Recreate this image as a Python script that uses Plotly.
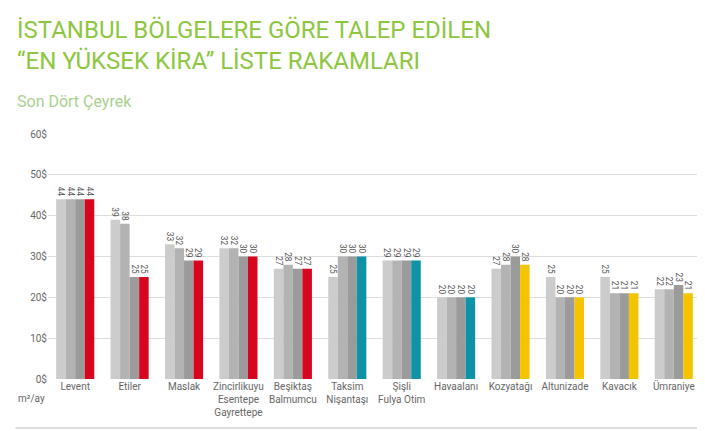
import plotly.graph_objects as go

categories = ["Levent", "Etiler", "Maslak", "Zincirlikuyu<br>Esentepe<br>Gayrettepe", "Beşiktaş<br>Balmumcu",
              "Taksim<br>Nişantaşı", "Şişli<br>Fulya Otim", "Havaalanı", "Kozyatağı", "Altunizade", "Kavacık", "Ümraniye"]
q1 = [44, 39, 33, 32, 27, 25, 29, 20, 27, 25, 25, 22]
q2 = [44, 38, 32, 32, 28, 30, 29, 20, 28, 20, 21, 22]
q3 = [44, 25, 29, 30, 27, 30, 29, 20, 30, 20, 21, 23]
q4 = [44, 25, 29, 30, 27, 30, 29, 20, 28, 20, 21, 21]
q4_colors = ["#d7061e"] * 5 + ["#0e93a6"] * 3 + ["#f5c400"] * 4
y_ticks = [0, 10, 20, 30, 40, 50, 60]
y_labels = ["0$", "10$", "20$", "30$", "40$", "50$", "60$"]

fig = go.Figure()
for vals, col in [(q1, "#cccccc"), (q2, "#b3b3b3"), (q3, "#9b9b9b"), (q4, q4_colors)]:
    fig.add_bar(x=categories, y=vals, marker_color=col, marker_line_width=0,
                text=[str(v) for v in vals], textposition="outside", textangle=90,
                textfont=dict(family="Roboto", size=10, color="#555555"), cliponaxis=False)

fig.update_layout(
    width=705, height=431, barmode="group", bargap=0.3, bargroupgap=0,
    paper_bgcolor="white", plot_bgcolor="white", showlegend=False,
    margin=dict(l=40, r=12, t=126, b=60),
    font=dict(family="Roboto", color="#666666"),
    yaxis=dict(range=[0, 60], tickvals=y_ticks, ticktext=y_labels, gridcolor="#dddddd",
               tickfont=dict(size=10), ticks="", zeroline=False, showline=False),
    xaxis=dict(tickfont=dict(size=10), ticks="", showline=False),
    annotations=[
        dict(x=0, y=1.49, xref="paper", yref="paper", xanchor="left", yanchor="top", xshift=-33,
             showarrow=False, align="left",
             text="İSTANBUL BÖLGELERE GÖRE TALEP EDİLEN<br>“EN YÜKSEK KİRA” LİSTE RAKAMLARI",
             font=dict(size=24, color="#8dc63f")),
        dict(x=0, y=1.18, xref="paper", yref="paper", xanchor="left", yanchor="top", xshift=-33,
             showarrow=False, text="Son Dört Çeyrek", font=dict(size=16, color="#a9d18e")),
        dict(x=0, y=-0.05, xref="paper", yref="paper", xanchor="left", yanchor="top", xshift=-32,
             showarrow=False, text="m²/ay", font=dict(size=10, color="#666666")),
    ],
)
fig.add_shape(type="line", xref="paper", yref="paper", x0=-0.05, x1=1, y0=-0.2, y1=-0.2,
              line=dict(color="#dddddd", width=2))
fig.write_html("out.html")
